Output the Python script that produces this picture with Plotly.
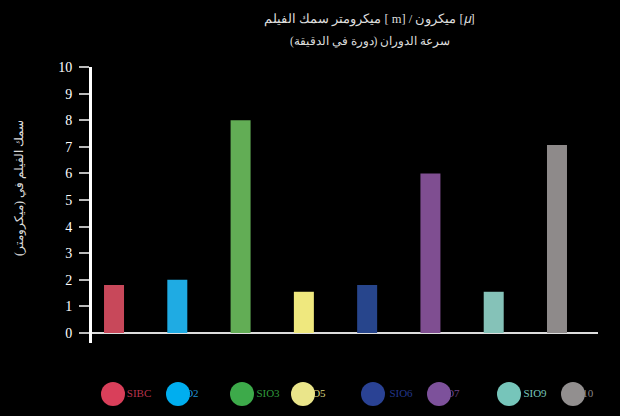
import plotly.graph_objects as go

categories = ["SIBC", "SIO2", "SIO3", "SIO5", "SIO6", "SIO7", "SIO9", "SIO10"]
thickness = [1.8, 2.0, 8.0, 1.55, 1.8, 6.0, 1.55, 7.07]
bar_colors = ["#C8485A", "#1FABE3", "#62AD55", "#EFE87E", "#27458C", "#7F4E91", "#85C2B8", "#8E8A8A"]
dot_colors = ["#D93F5A", "#00AEEF", "#3DAA4A", "#EAE58A", "#2A4294", "#7D519B", "#76C5BA", "#928F8F"]
text_colors = ["#B8334C", "#1E90D0", "#2F9A3C", "#D8D27A", "#22368A", "#6B4487", "#76C5BA", "#8A8787"]
y_ticks = [0, 1, 2, 3, 4, 5, 6, 7, 8, 9, 10]

title_line1 = "ميكرومتر سمك الفيلم [ m] / ميكرون [𝜇]"
title_line2 = "سرعة الدوران (دورة في الدقيقة)"
y_title = "سمك الفيلم في (ميكرومتر)"

# custom legend row (pixel positions)
dot_x = [113, 178, 242, 303, 373, 439, 509, 573]
label_x = [139, 187, 268, 314, 401, 448, 535, 579]
legend_y = 394

W, H = 620, 416
L, R, T = 92, 22, 67
AXIS_BOTTOM = 343  # pixel row where the value axis ends
plot_h = H - T

fig = go.Figure()
fig.add_trace(go.Bar(
    x=categories, y=thickness, marker=dict(color=bar_colors, line=dict(width=0)),
    width=0.316, showlegend=False, hoverinfo="x+y",
))

# legend labels (beneath the dots)
fig.add_trace(go.Scatter(
    x=label_x, y=[legend_y] * len(categories), mode="text", text=categories,
    textposition="middle center",
    textfont=dict(family="Liberation Serif", size=11, color=text_colors),
    xaxis="x2", yaxis="y2", cliponaxis=False, showlegend=False, hoverinfo="skip",
))
# legend dots
fig.add_trace(go.Scatter(
    x=dot_x, y=[legend_y] * len(categories), mode="markers",
    marker=dict(size=24, color=dot_colors, line=dict(width=0)),
    xaxis="x2", yaxis="y2", cliponaxis=False, showlegend=False, hoverinfo="skip",
))

def py(p):
    return (H - p) / plot_h

def px(p):
    return (p - L) / (W - L - R)

fig.update_layout(
    width=W, height=H,
    margin=dict(l=L, r=R, t=T, b=0, pad=0),
    paper_bgcolor="black", plot_bgcolor="rgba(0,0,0,0)",
    font=dict(family="Liberation Serif", color="white"),
    xaxis=dict(
        type="category", range=[-0.348, 7.648], showticklabels=False, ticks="",
        showgrid=False, zeroline=False, showline=False, fixedrange=True,
    ),
    yaxis=dict(
        domain=[py(AXIS_BOTTOM), 1],
        range=[-0.376, 10], tickvals=y_ticks, ticks="outside", ticklen=10, tickwidth=2,
        tickcolor="#BBBBBB", showline=True, linecolor="white", linewidth=3,
        showgrid=False, zeroline=True, zerolinecolor="#DDDDDD", zerolinewidth=2,
        tickfont=dict(family="Liberation Serif", size=14, color="white"),
        ticklabelstandoff=4, fixedrange=True,
    ),
    xaxis2=dict(domain=[0, 1], range=[L, W - R], visible=False, anchor="y2", fixedrange=True),
    yaxis2=dict(domain=[0, 1], range=[H, T], visible=False, anchor="x2", fixedrange=True),
    annotations=[
        dict(text=title_line1, xref="paper", yref="paper", x=px(369), y=py(19),
             showarrow=False, xanchor="center", yanchor="middle",
             font=dict(family="Liberation Serif", size=12.5, color="#DDDDDD")),
        dict(text=title_line2, xref="paper", yref="paper", x=px(370), y=py(42),
             showarrow=False, xanchor="center", yanchor="middle",
             font=dict(family="Liberation Serif", size=11.5, color="#DDDDDD")),
        dict(text=y_title, xref="paper", yref="paper", textangle=-90, x=px(19), y=py(188),
             showarrow=False, xanchor="center", yanchor="middle",
             font=dict(family="Liberation Serif", size=12, color="#DDDDDD")),
    ],
)

fig.write_html(
    "out.html",
    config={"displayModeBar": False},
    post_script="document.body.style.margin='0';document.body.style.overflow='hidden';",
)
